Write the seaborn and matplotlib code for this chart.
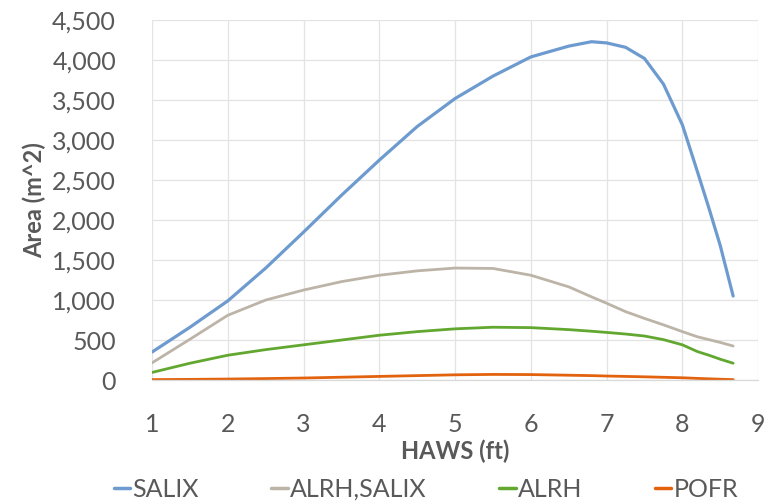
import matplotlib
matplotlib.use("Agg")
import matplotlib.pyplot as plt
import matplotlib.ticker as mticker
import pandas as pd
import seaborn as sns

# HAWS (ft) sample positions shared by all series
haws = [1, 1.5, 2, 2.5, 3, 3.5, 4, 4.5, 5, 5.5, 6, 6.5, 6.8, 7, 7.25, 7.5,
        7.75, 8, 8.2, 8.35, 8.5, 8.67]

salix = [350, 660, 990, 1400, 1850, 2310, 2750, 3170, 3520, 3800, 4040, 4175,
         4230, 4215, 4160, 4020, 3700, 3190, 2600, 2150, 1680, 1050]
alrh_salix = [215, 510, 810, 1000, 1125, 1230, 1310, 1365, 1400, 1395, 1310,
              1165, 1040, 960, 855, 770, 690, 605, 540, 505, 470, 425]
alrh = [95, 210, 310, 380, 440, 500, 560, 605, 640, 660, 655, 630, 610, 595,
        575, 550, 505, 440, 355, 310, 260, 210]
pofr = [5, 8, 12, 18, 25, 35, 45, 55, 65, 70, 68, 60, 55, 50, 45, 40, 34, 28,
        20, 15, 10, 5]

series_names = ["SALIX", "ALRH,SALIX", "ALRH", "POFR"]
series_values = [salix, alrh_salix, alrh, pofr]
colors = ["#6E9BCF", "#BDB4A8", "#62A72F", "#E2620E"]

x_ticks = [1, 2, 3, 4, 5, 6, 7, 8, 9]
y_ticks = [0, 500, 1000, 1500, 2000, 2500, 3000, 3500, 4000, 4500]

df = pd.concat(
    [pd.DataFrame({"HAWS": haws, "Area": vals, "Species": name})
     for name, vals in zip(series_names, series_values)],
    ignore_index=True,
)

sns.set_theme(style="white")
plt.rcParams["font.family"] = ["Lato", "DejaVu Sans"]
text_color = "#595959"

fig = plt.figure(figsize=(7.76, 5.03), dpi=100)
ax = fig.add_axes([0.196, 0.2445, 0.781, 0.7155])

sns.lineplot(data=df, x="HAWS", y="Area", hue="Species",
             hue_order=series_names, palette=colors, linewidth=2.0,
             sort=False, ax=ax, legend=True)
for line, lw in zip(ax.get_lines(), [2.3, 2.0, 2.0, 2.0]):
    line.set_linewidth(lw)
    line.set_solid_joinstyle("round")

ax.set_xlim(1, 9)
ax.set_ylim(0, 4500)
ax.set_xticks(x_ticks)
ax.set_yticks(y_ticks)
ax.yaxis.set_major_formatter(mticker.FuncFormatter(lambda v, p: f"{int(v):,}"))
ax.grid(True, color="#E3E3E3", linewidth=0.9)
ax.set_axisbelow(True)
for s in ["top", "right", "left"]:
    ax.spines[s].set_visible(False)
ax.spines["bottom"].set_color("#D9D9D9")
ax.spines["bottom"].set_linewidth(0.9)

ax.tick_params(axis="both", length=0, labelsize=18, labelcolor=text_color)
ax.tick_params(axis="x", pad=24)
ax.tick_params(axis="y", pad=26)

ax.set_xlabel("HAWS (ft)", fontsize=17, fontweight="bold", color=text_color,
              labelpad=2)
ax.set_ylabel("Area (m^2)", fontsize=17, fontweight="bold", color=text_color,
              labelpad=4)

handles, labels = ax.get_legend_handles_labels()
ax.legend_.remove()
leg = fig.legend(handles, labels, loc="center", bbox_to_anchor=(0.549, 0.027),
                 ncol=4, frameon=False, fontsize=18, handlelength=0.65,
                 handletextpad=0.1, columnspacing=2.9, labelcolor=text_color)
for h in leg.legend_handles:
    h.set_linewidth(2.5)

fig.savefig("out.png", dpi=100)
